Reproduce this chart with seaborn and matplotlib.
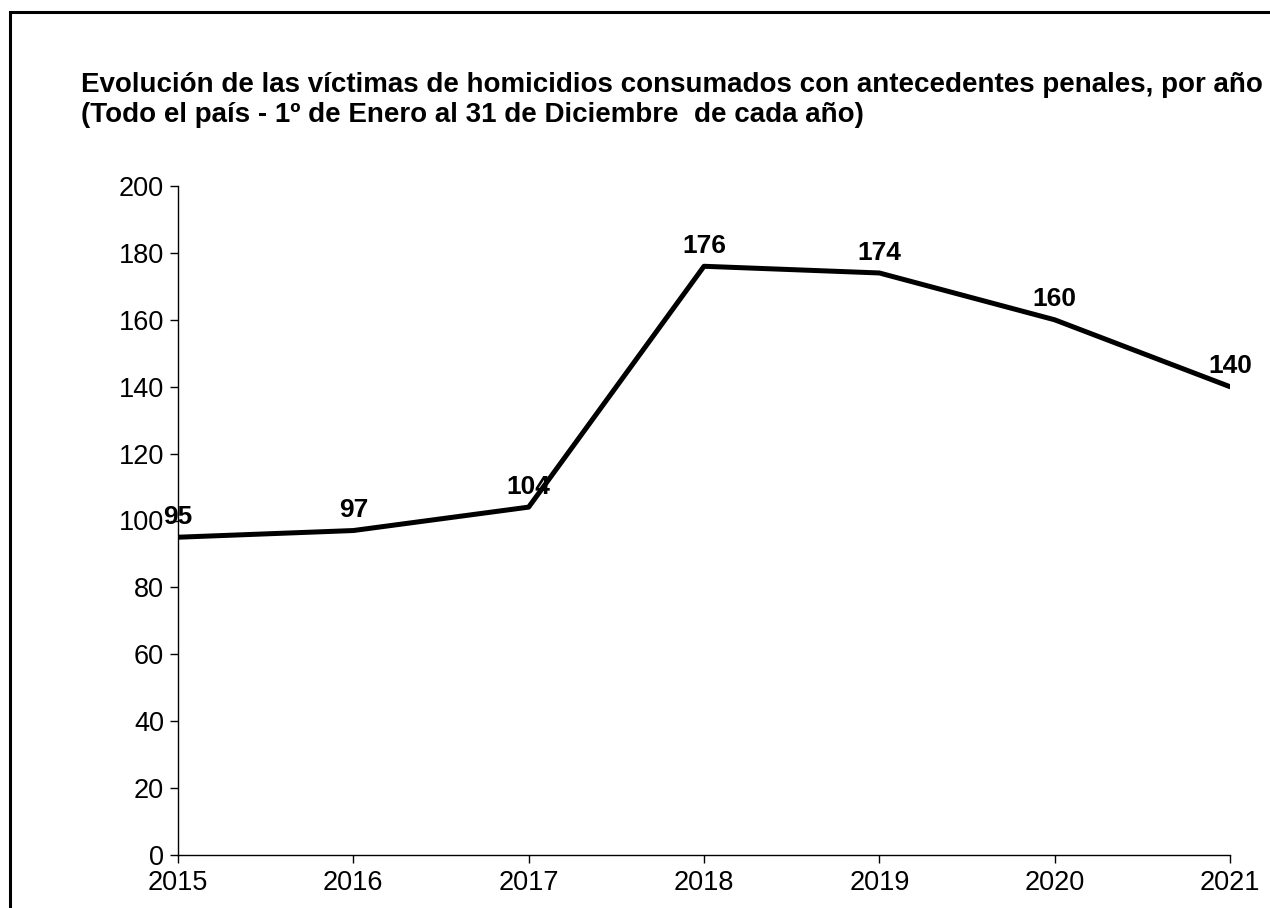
import pandas as pd
import numpy as np
import matplotlib.pyplot as plt
import seaborn as sns
from matplotlib.patches import Rectangle

# datos
anios = [2015, 2016, 2017, 2018, 2019, 2020, 2021]
victimas = [95, 97, 104, 176, 174, 160, 140]

titulo = ("Evolución de las víctimas de homicidios consumados con antecedentes penales, por año\n"
          "(Todo el país - 1º de Enero al 31 de Diciembre  de cada año)")

sns.set_style("white")
plt.rcParams['font.family'] = ['Liberation Sans', 'DejaVu Sans']
plt.rcParams['text.color'] = 'black'
plt.rcParams['xtick.color'] = 'black'
plt.rcParams['ytick.color'] = 'black'

df = pd.DataFrame({"anio": anios, "victimas": victimas})

fig = plt.figure(figsize=(12.7, 9.08), dpi=100)
ax = fig.add_axes([178/1270, 1 - 855/908, (1230 - 178)/1270, (855 - 186)/908])

sns.lineplot(data=df, x="anio", y="victimas", color="black", linewidth=3.6, ax=ax)

# etiquetas de valores
for a, v in zip(anios, victimas):
    ax.annotate(str(v), (a, v), xytext=(0, 6), textcoords="offset points",
                ha="center", va="bottom", fontsize=19, fontweight="bold", color="black",
                clip_on=False)

ax.set_xlim(2015, 2021)
ax.set_ylim(0, 200)
ax.set_xticks(anios)
ax.set_yticks(np.arange(0, 201, 20))
ax.set_xlabel("")
ax.set_ylabel("")
ax.tick_params(axis="both", labelsize=19.5, length=6, width=1, direction="out",
               left=True, bottom=True, pad=4)
ax.tick_params(axis="x", pad=5)
sns.despine(ax=ax)
for s in ["left", "bottom"]:
    ax.spines[s].set_color("black")
    ax.spines[s].set_linewidth(1)

fig.text(81/1270, 1 - 95/908, titulo, fontsize=20, fontweight="bold", ha="left", va="center_baseline",
         linespacing=1.2, color="black")

# borde del gráfico
fig.patches.append(Rectangle((10/1270, -0.1), 1.2, 1 - 12/908 + 0.1, transform=fig.transFigure,
                             fill=False, edgecolor="black", linewidth=2.2))

fig.savefig("out.png", dpi=100)
